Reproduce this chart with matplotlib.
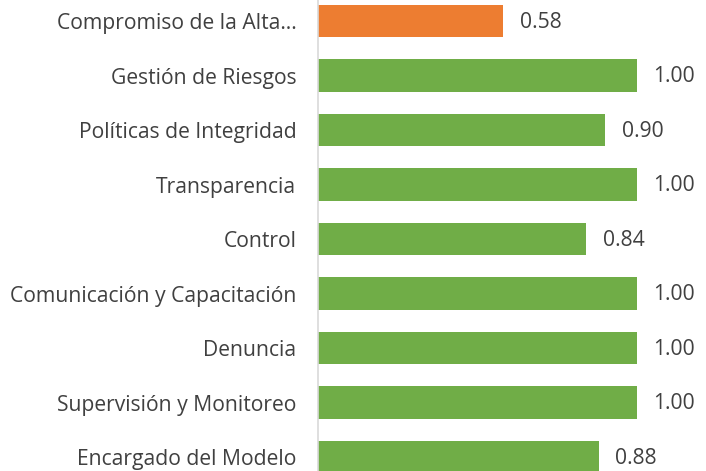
import matplotlib.pyplot as plt

plt.rcParams["font.family"] = ["Open Sans", "DejaVu Sans"]

# data, top to bottom as in the chart
categories = [
    "Compromiso de la Alta…",
    "Gestión de Riesgos",
    "Políticas de Integridad",
    "Transparencia",
    "Control",
    "Comunicación y Capacitación",
    "Denuncia",
    "Supervisión y Monitoreo",
    "Encargado del Modelo",
]
values = [0.58, 1.00, 0.90, 1.00, 0.84, 1.00, 1.00, 1.00, 0.88]
value_labels = ["0.58", "1.00", "0.90", "1.00", "0.84", "1.00", "1.00", "1.00", "0.88"]

GREEN = "#70AD47"
ORANGE = "#ED7D31"
TEXT = "#404040"
colors = [ORANGE] + [GREEN] * (len(values) - 1)

W, H = 706, 471
fig = plt.figure(figsize=(W / 100, H / 100), dpi=100)
ax = fig.add_axes([318 / W, 0, 1 - 318 / W, 1])

pos = list(range(len(categories)))
ax.barh(pos, values, height=0.59, color=colors)

for p, v, lab in zip(pos, values, value_labels):
    ax.text(v + 0.052, p + 0.02, lab, va="center", ha="left", fontsize=15.2, color=TEXT)

ax.set_yticks(pos)
ax.set_yticklabels(categories, fontsize=15.2, color=TEXT)
ax.tick_params(axis="y", length=0, pad=15.5)
ax.set_xticks([])

ax.set_xlim(0, (W - 318) / 319)
ax.set_ylim((H - 21) / 54.5, -21 / 54.5)

for s in ["top", "right", "bottom"]:
    ax.spines[s].set_visible(False)
ax.spines["left"].set_color("#D9D9D9")
ax.spines["left"].set_linewidth(1.2)

fig.savefig("out.png", dpi=100)
